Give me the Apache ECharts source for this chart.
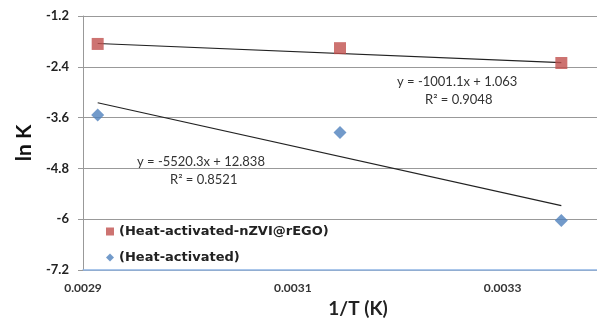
<!DOCTYPE html>
<html><head><meta charset="utf-8">
<script src="https://cdn.jsdelivr.net/npm/echarts@6/dist/echarts.min.js"></script>
<style>html,body{margin:0;padding:0;background:#fff}#c{width:597px;height:320px}</style>
</head><body><div id="c"></div>
<script>
var invT = [0.002914, 0.003145, 0.003356];
var lnK_nzvi = [-1.86, -1.96, -2.31];
var lnK_heat = [-3.54, -3.95, -6.03];
var trendX = [0.002914, 0.003356];
var trend_nzvi = [-1.85, -2.30];
var trend_heat = [-3.25, -5.68];
var names = ['(Heat-activated-nZVI@rEGO)', '(Heat-activated)'];
var eqs = ['y = -1001.1x + 1.063', 'R\u00b2 = 0.9048', 'y = -5520.3x + 12.838', 'R\u00b2 = 0.8521'];

function pairs(xs, ys){ return xs.map(function(x,i){return [x, ys[i]];}); }
var FONT = 'Lato, "Open Sans", sans-serif';
var LFONT = '"DejaVu Sans", "Open Sans", sans-serif';
var chart = echarts.init(document.getElementById('c'));
chart.setOption({
  animation: false,
  grid: {left: 83, top: 16, bottom: 50, right: 0, containLabel: false, outerBoundsMode: 'none'},
  legend: {
    data: [{name: names[0], icon: 'rect'}, {name: names[1], icon: 'diamond'}],
    orient: 'vertical', left: 101, top: 218, itemWidth: 8, itemHeight: 8, itemGap: 9,
    textStyle: {fontFamily: LFONT, fontWeight: 'bold', fontSize: 13, lineHeight: 17, color: '#222'}
  },
  xAxis: {
    type: 'value', min: 0.0029, max: 0.00339, interval: 0.0001,
    axisLine: {lineStyle: {color: '#8eb4e3', width: 1.5}},
    axisTick: {show: false},
    splitLine: {show: false},
    axisLabel: {margin: 12, fontFamily: FONT, fontWeight: 'bold', fontSize: 12, color: '#333', showMaxLabel: false,
      formatter: function(v){ var k = Math.round(v*1e4); return (Math.abs(v*1e4 - k) < 1e-6 && k % 2 === 1) ? (k/1e4).toFixed(4) : ''; }},
    name: '1/T (K)', nameLocation: 'middle', nameGap: 28,
    nameTextStyle: {fontFamily: FONT, fontWeight: 'bold', fontSize: 19, color: '#222', padding: [0, 0, 0, 36]}
  },
  yAxis: {
    type: 'value', min: -7.2, max: -1.2, interval: 1.2,
    axisLine: {show: true, lineStyle: {color: '#999'}},
    axisTick: {show: true, length: 5, lineStyle: {color: '#999'}},
    splitLine: {lineStyle: {color: '#999', width: 1}},
    axisLabel: {margin: 14, fontFamily: FONT, fontWeight: 'bold', fontSize: 13, color: '#222',
      formatter: function(v){ return String(+v.toFixed(1)); }},
    name: 'ln K', nameLocation: 'middle', nameGap: 48,
    nameTextStyle: {fontFamily: FONT, fontWeight: 'bold', fontSize: 21, color: '#111'}
  },
  series: [
    {name: 'trend1', type: 'line', data: pairs(trendX, trend_nzvi), symbol: 'none',
      lineStyle: {color: '#222', width: 1.2}, z: 1},
    {name: 'trend2', type: 'line', data: pairs(trendX, trend_heat), symbol: 'none',
      lineStyle: {color: '#222', width: 1.2}, z: 1},
    {name: names[0], type: 'scatter', data: pairs(invT, lnK_nzvi), symbol: 'rect', symbolSize: 12,
      itemStyle: {color: '#c0504d'}, z: 3},
    {name: names[1], type: 'scatter', data: pairs(invT, lnK_heat), symbol: 'diamond', symbolSize: 13,
      itemStyle: {color: '#4f81bd'}, z: 3}
  ],
  graphic: [
    {type: 'text', left: 397, top: 75, style: {text: eqs[0], font: '13px ' + FONT, fill: '#333'}},
    {type: 'text', left: 425, top: 93, style: {text: eqs[1], font: '13px ' + FONT, fill: '#333'}},
    {type: 'text', left: 137, top: 155, style: {text: eqs[2], font: '13px ' + FONT, fill: '#333'}},
    {type: 'text', left: 170, top: 173, style: {text: eqs[3], font: '13px ' + FONT, fill: '#333'}}
  ]
});
</script></body></html>
